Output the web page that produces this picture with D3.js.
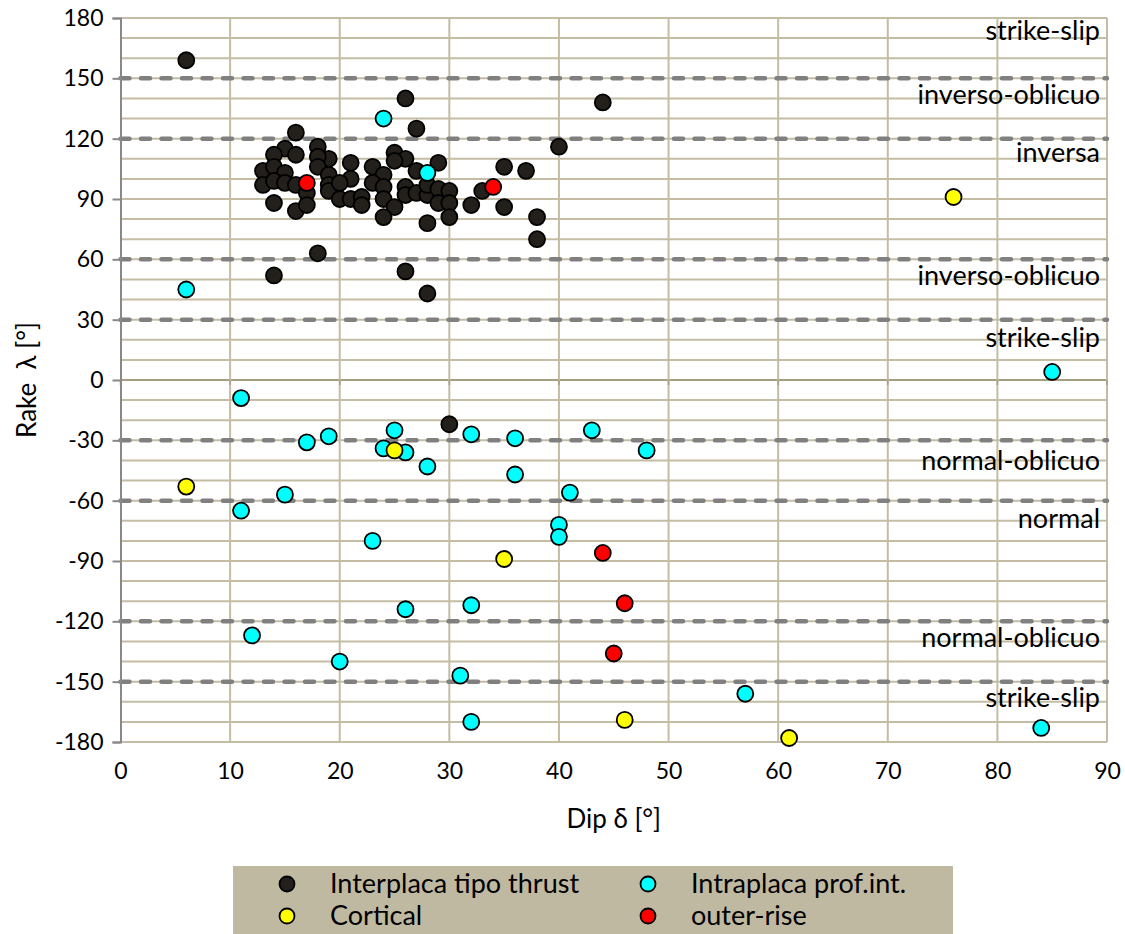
<!DOCTYPE html>
<html>
<head>
<meta charset="utf-8">
<script src="https://cdn.jsdelivr.net/npm/d3@7"></script>
<style>
  body { margin: 0; background: #fff; }
  text { font-family: Lato, "Open Sans", sans-serif; fill: #000; }
</style>
</head>
<body>
<svg id="chart"></svg>
<script>
// series: [dip, rake]
const interplaca = [[6,159],[26,140],[27,125],[16,123],[18,116],[15,115],[14,112],[16,112],[25,113],[26,110],
  [25,109],[19,110],[18,111],[21,108],[29,108],[13,104],[14,106],[18,106],[15,103],[19,102],[23,106],[24,102],
  [27,104],[21,100],[13,97],[14,99],[15,98],[16,97],[17,93],[19,97],[19,94],[20,98],[20,90],[21,90],[22,91],
  [22,87],[23,98],[24,96],[24,90],[25,86],[24,81],[26,96],[26,92],[27,93],[28,92],[28,97],[29,95],[30,94],
  [29,88],[30,88],[30,81],[28,78],[32,87],[33,94],[35,106],[37,104],[35,86],[38,81],[38,70],[40,116],[44,138],
  [14,88],[16,84],[17,87],[18,63],[14,52],[26,54],[28,43],[30,-22]]
const intraplaca = [[24,130],[28,103],[6,45],[85,4],[11,-9],[17,-31],[19,-28],[25,-25],[24,-34],[26,-36],
  [28,-43],[32,-27],[36,-29],[36,-47],[43,-25],[48,-35],[41,-56],[40,-72],[40,-78],[15,-57],[11,-65],[23,-80],
  [26,-114],[32,-112],[12,-127],[20,-140],[31,-147],[32,-170],[57,-156],[84,-173]]
const cortical = [[76,91],[6,-53],[25,-35],[35,-89],[46,-169],[61,-178]]
const outerRise = [[17,98],[34,96],[44,-86],[46,-111],[45,-136]]

const seriesNames = ['Interplaca tipo thrust', 'Intraplaca prof.int.', 'Cortical', 'outer-rise']
const seriesColors = ['#231f1a', '#00ffff', '#ffff00', '#ff0000']
const seriesData = [interplaca, intraplaca, cortical, outerRise]

const xTicks = d3.range(0, 91, 10)
const yTicks = d3.range(-180, 181, 30)
const yMinor = d3.range(-180, 181, 10)
const boundaries = [150, 120, 60, 30, -30, -60, -120, -150]
const regionLabels = ['strike-slip', 'inverso-oblicuo', 'inversa', 'inverso-oblicuo', 'strike-slip',
  'normal-oblicuo', 'normal', 'normal-oblicuo', 'strike-slip']
const regionRake = [174, 142, 113, 52, 21, -40, -69, -128, -158]

const width = 1125, height = 934
const margin = {top: 18, left: 120.5, right: 18, bottom: 192}
const font = 'Lato, "Open Sans", sans-serif'

const svg = d3.select('#chart').attr('width', width).attr('height', height)

const x = d3.scaleLinear().domain([0, 90]).range([margin.left, width - margin.right])
const y = d3.scaleLinear().domain([-180, 180]).range([height - margin.bottom, margin.top])

const gridColor = '#c4bda4'

// grid
svg.append('g').selectAll('line').data(yMinor).enter().append('line')
  .attr('x1', x(0)).attr('x2', x(90))
  .attr('y1', d => y(d)).attr('y2', d => y(d))
  .attr('stroke', d => d === 0 ? '#a59e80' : gridColor).attr('stroke-width', 2)
svg.append('g').selectAll('line').data(xTicks.slice(1)).enter().append('line')
  .attr('x1', d => x(d)).attr('x2', d => x(d))
  .attr('y1', y(180)).attr('y2', y(-180))
  .attr('stroke', gridColor).attr('stroke-width', 2)

// small ticks on the zero line
svg.append('g').selectAll('line').data(xTicks).enter().append('line')
  .attr('x1', d => x(d)).attr('x2', d => x(d))
  .attr('y1', y(0)).attr('y2', y(0) + 5)
  .attr('stroke', '#a59e80').attr('stroke-width', 1.5)

// dashed boundaries
svg.append('g').selectAll('line').data(boundaries).enter().append('line')
  .attr('x1', x(0)).attr('x2', x(90))
  .attr('y1', d => y(d)).attr('y2', d => y(d))
  .attr('stroke', '#808080').attr('stroke-width', 4.5)
  .attr('stroke-linecap', 'round')
  .attr('stroke-dasharray', '9,11.5')

// y axis
const yAxis = d3.axisLeft(y).tickValues(yTicks).tickFormat(d => String(d)).tickSize(8).tickPadding(9)
const gy = svg.append('g').attr('transform', `translate(${x(0)},0)`).call(yAxis)
gy.select('.domain').attr('stroke', '#888').attr('stroke-width', 2)
gy.selectAll('.tick line').attr('stroke', '#888').attr('stroke-width', 2)
gy.selectAll('.tick text').attr('font-size', 23).style('font-family', font)

// x tick labels at the bottom
const xAxis = d3.axisBottom(x).tickValues(xTicks).tickSize(0).tickPadding(21)
const gx = svg.append('g').attr('transform', `translate(0,${y(-180)})`).call(xAxis)
gx.select('.domain').remove()
gx.selectAll('.tick text').attr('font-size', 23).style('font-family', font)

// region labels
svg.append('g').selectAll('text').data(regionLabels).enter().append('text')
  .attr('x', x(90) - 7)
  .attr('y', (d, i) => y(regionRake[i]))
  .attr('dy', '0.35em')
  .attr('text-anchor', 'end')
  .attr('font-size', 27)
  .text(d => d)

// points
seriesData.forEach((data, i) => {
  svg.append('g').selectAll('circle').data(data).enter().append('circle')
    .attr('cx', d => x(d[0]))
    .attr('cy', d => y(d[1]))
    .attr('r', 8)
    .attr('fill', seriesColors[i])
    .attr('stroke', '#000')
    .attr('stroke-width', 1.8)
})

// axis titles
svg.append('text')
  .attr('x', (x(0) + x(90)) / 2).attr('y', 828)
  .attr('text-anchor', 'middle').attr('font-size', 26)
  .text('Dip δ [°]')
svg.append('text')
  .attr('transform', `translate(36,${y(0)}) rotate(-90)`)
  .attr('text-anchor', 'middle').attr('font-size', 26)
  .style('white-space', 'pre')
  .text('Rake  λ [°]')

// legend
const legend = svg.append('g')
legend.append('rect')
  .attr('x', 233).attr('y', 866).attr('width', 720).attr('height', 68)
  .attr('fill', '#c0b9a1')
const legCols = [287, 648], legRows = [884, 916]
seriesNames.forEach((name, i) => {
  const cx = legCols[i % 2], cy = legRows[Math.floor(i / 2)]
  legend.append('circle')
    .attr('cx', cx).attr('cy', cy).attr('r', 7.5)
    .attr('fill', seriesColors[i]).attr('stroke', '#000').attr('stroke-width', 1.8)
  legend.append('text')
    .attr('x', cx + 43).attr('y', cy).attr('dy', '0.35em')
    .attr('font-size', 27)
    .text(name)
})
</script>
</body>
</html>
